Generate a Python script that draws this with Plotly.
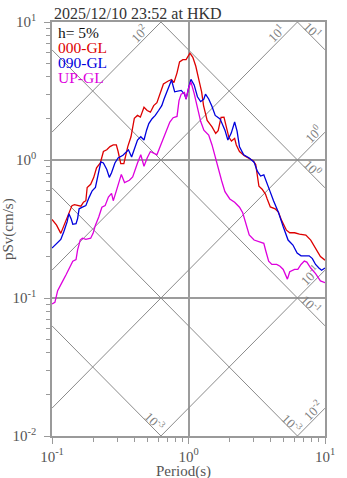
import math
import plotly.graph_objects as go

# ---- record information -------------------------------------------------
TITLE = "2025/12/10 23:52 at HKD"
DAMPING = "h= 5%"
COMPONENTS = ["000-GL", "090-GL", "UP-GL"]
COLORS = ["#dd0000", "#0000dd", "#dd00dd"]

# ---- pseudo-velocity response spectra (period s, pSv cm/s) ---------------
period_000 = [0.100, 0.108, 0.116, 0.122, 0.129, 0.134, 0.140, 0.146, 0.163, 0.170,
              0.177, 0.181, 0.192, 0.202, 0.212, 0.226, 0.238, 0.252, 0.266, 0.281,
              0.296, 0.305, 0.319, 0.336, 0.359, 0.379, 0.390, 0.401, 0.423, 0.444,
              0.472, 0.498, 0.526, 0.556, 0.587, 0.620, 0.655, 0.711, 0.751, 0.782,
              0.824, 0.860, 0.909, 0.960, 1.003, 1.025, 1.076, 1.131, 1.188, 1.248,
              1.289, 1.370, 1.487, 1.582, 1.649, 1.732, 1.819, 1.901, 1.974, 2.064,
              2.178, 2.240, 2.364, 2.566, 2.785, 2.974, 3.108, 3.176, 3.281, 3.463,
              3.662, 3.772, 3.975, 4.314, 4.554, 4.807, 5.217, 5.516, 5.987, 6.500,
              7.241, 7.859, 8.531, 9.259, 10.0]
psv_000 = [0.371, 0.337, 0.294, 0.331, 0.376, 0.408, 0.467, 0.475, 0.463, 0.494,
           0.507, 0.632, 0.667, 0.745, 0.877, 0.952, 1.152, 1.185, 1.251, 1.286,
           1.286, 1.152, 0.942, 0.942, 1.251, 1.474, 1.700, 2.003, 2.104, 2.046,
           2.411, 2.284, 2.221, 2.479, 2.604, 3.018, 3.557, 3.736, 3.830, 3.634,
           4.281, 5.144, 5.334, 5.334, 5.848, 5.944, 5.540, 4.778, 3.862, 3.120,
           2.479, 1.938, 1.736, 1.558, 1.632, 2.036, 2.046, 1.700, 1.466, 1.373,
           1.435, 1.286, 1.152, 1.074, 1.022, 0.989, 0.926, 0.786, 0.645, 0.615,
           0.566, 0.522, 0.457, 0.443, 0.419, 0.365, 0.310, 0.297, 0.297, 0.290,
           0.286, 0.263, 0.230, 0.200, 0.188]

period_090 = [0.100, 0.108, 0.116, 0.122, 0.129, 0.133, 0.138, 0.142, 0.150, 0.154,
              0.158, 0.167, 0.177, 0.187, 0.197, 0.208, 0.220, 0.228, 0.238, 0.252,
              0.263, 0.273, 0.289, 0.305, 0.331, 0.349, 0.363, 0.383, 0.401, 0.423,
              0.447, 0.472, 0.493, 0.512, 0.541, 0.571, 0.604, 0.637, 0.662, 0.692,
              0.723, 0.751, 0.792, 0.838, 0.884, 0.934, 0.960, 1.003, 1.042, 1.100,
              1.163, 1.227, 1.296, 1.332, 1.406, 1.487, 1.569, 1.703, 1.798, 1.849,
              1.942, 2.057, 2.178, 2.269, 2.364, 2.537, 2.785, 3.023, 3.191, 3.374,
              3.562, 3.760, 3.975, 4.196, 4.554, 4.943, 5.364, 5.822, 6.249, 6.673,
              7.656, 8.082, 8.531, 9.020, 9.443, 10.0]
psv_090 = [0.230, 0.246, 0.266, 0.302, 0.356, 0.408, 0.376, 0.342, 0.346, 0.376,
           0.443, 0.455, 0.467, 0.536, 0.598, 0.632, 0.808, 0.968, 0.952, 0.853,
           0.748, 0.808, 0.952, 1.034, 1.082, 1.147, 1.185, 1.051, 1.185, 1.396,
           1.474, 1.396, 1.645, 1.836, 1.993, 2.104, 2.284, 2.479, 2.767, 3.084,
           3.442, 3.798, 3.120, 3.171, 3.197, 3.003, 2.767, 3.347, 3.843, 3.499,
           2.873, 2.648, 2.767, 3.003, 2.767, 2.438, 2.104, 1.987, 1.786, 1.645,
           1.396, 1.566, 1.885, 1.618, 1.245, 1.091, 1.034, 0.965, 0.830, 0.765,
           0.780, 0.686, 0.585, 0.507, 0.419, 0.328, 0.263, 0.242, 0.212, 0.202,
           0.202, 0.193, 0.175, 0.165, 0.159, 0.165]

period_up = [0.100, 0.105, 0.110, 0.114, 0.120, 0.127, 0.134, 0.142, 0.150, 0.154,
             0.161, 0.167, 0.177, 0.192, 0.200, 0.208, 0.220, 0.232, 0.245, 0.259,
             0.273, 0.281, 0.296, 0.313, 0.322, 0.340, 0.369, 0.390, 0.411, 0.423,
             0.447, 0.472, 0.498, 0.526, 0.556, 0.587, 0.620, 0.655, 0.692, 0.730,
             0.772, 0.824, 0.852, 0.884, 0.934, 0.960, 1.003, 1.042, 1.100, 1.163,
             1.227, 1.296, 1.406, 1.487, 1.569, 1.657, 1.751, 1.849, 2.007, 2.178,
             2.364, 2.495, 2.639, 2.785, 3.023, 3.281, 3.562, 3.680, 3.866, 4.081,
             4.429, 4.683, 4.943, 5.304, 5.516, 5.987, 6.321, 6.673, 7.054, 7.361,
             7.859, 8.531, 9.259, 10.0]
psv_up = [0.0906, 0.0931, 0.113, 0.122, 0.133, 0.148, 0.165, 0.185, 0.190, 0.223,
          0.263, 0.271, 0.266, 0.271, 0.294, 0.337, 0.386, 0.455, 0.467, 0.539,
          0.573, 0.507, 0.598, 0.724, 0.786, 0.686, 0.713, 0.755, 0.901, 0.952,
          1.091, 0.901, 1.034, 1.152, 1.122, 1.091, 1.251, 1.435, 1.691, 1.885,
          2.026, 2.070, 2.691, 3.003, 3.084, 2.767, 3.347, 3.676, 3.043, 2.379,
          1.906, 1.645, 1.515, 1.286, 1.056, 0.839, 0.704, 0.590, 0.522, 0.494,
          0.455, 0.415, 0.346, 0.286, 0.263, 0.256, 0.249, 0.220, 0.185, 0.175,
          0.175, 0.170, 0.161, 0.137, 0.155, 0.161, 0.161, 0.175, 0.185, 0.182,
          0.165, 0.150, 0.133, 0.129]

# ---- tripartite grid levels ---------------------------------------------
acc_levels = [0.01, 0.1, 1.0, 10.0, 100.0]      # pSa, cm/s^2
disp_levels = [0.001, 0.01, 0.1, 1.0, 10.0]     # Sd, cm
x_tick_vals = [0.1, 1.0, 10.0]
x_tick_text = ["10<sup>-1</sup>", "10<sup>0</sup>", "10<sup>1</sup>"]
y_tick_vals = [0.01, 0.1, 1.0, 10.0]
y_tick_text = ["10<sup>-2</sup>", "10<sup>-1</sup>", "10<sup>0</sup>", "10<sup>1</sup>"]

# grid-line captions: (kind, level, text)
grid_captions = [
    ("acc", 100.0, "10<sup>2</sup>"),
    ("acc", 10.0, "10<sup>1</sup>"),
    ("acc", 1.0, "10<sup>0</sup>"),
    ("acc", 0.1, "10<sup>-1</sup>"),
    ("acc", 0.01, "10<sup>-2</sup>"),
    ("disp", 10.0, "10<sup>1</sup>"),
    ("disp", 1.0, "10<sup>0</sup>"),
    ("disp", 0.1, "10<sup>-1</sup>"),
    ("disp", 0.01, "10<sup>-3</sup>"),
    ("disp", 0.001, "10<sup>-3</sup>"),
]
# where each caption sits along its line (log10 of period)
caption_logT = [-0.320, 0.680, 0.950, 0.928, 0.950, 0.883, 0.884, 0.869, 0.730, -0.278]

FONT = "Liberation Serif, Times New Roman, serif"
GRID = "#8a8a8a"
FRAME = "#9a9a9a"
TWO_PI = 2.0 * math.pi


def sv_on_line(kind, level, t):
    return level * t / TWO_PI if kind == "acc" else TWO_PI * level / t


fig = go.Figure()

# diagonal lines of constant acceleration and displacement
t_ends = [0.1, 10.0]
for sa in acc_levels:
    fig.add_trace(go.Scatter(x=t_ends, y=[sv_on_line("acc", sa, t) for t in t_ends],
                             mode="lines", line=dict(color=GRID, width=1),
                             hoverinfo="skip", showlegend=False))
for sd in disp_levels:
    fig.add_trace(go.Scatter(x=t_ends, y=[sv_on_line("disp", sd, t) for t in t_ends],
                             mode="lines", line=dict(color=GRID, width=1),
                             hoverinfo="skip", showlegend=False))

# spectra
for name, per, val, col in zip(COMPONENTS, [period_000, period_090, period_up],
                               [psv_000, psv_090, psv_up], COLORS):
    fig.add_trace(go.Scatter(x=per, y=val, mode="lines", name=name,
                             line=dict(color=col, width=1.3), showlegend=False))

annotations = []
for (kind, level, text), lt in zip(grid_captions, caption_logT):
    t = 10 ** lt
    sv = sv_on_line(kind, level, t)
    if kind == "acc":
        ang, dx, dy = -45, -5.5, 5.5
    else:
        ang, dx, dy = 45, 4, 4
    annotations.append(dict(x=lt, y=math.log10(sv), xref="x", yref="y", text=text,
                            showarrow=False, textangle=ang, xanchor="center",
                            yanchor="middle", xshift=dx, yshift=dy,
                            font=dict(family=FONT, size=13, color="#808080")))

# title
annotations.append(dict(x=0, y=1, xref="paper", yref="paper", text=TITLE,
                        showarrow=False, xanchor="left", yanchor="bottom",
                        xshift=0, yshift=-2,
                        font=dict(family=FONT, size=16, color="#333333")))

# legend block
legend_rows = [(DAMPING, "#111111")] + list(zip(COMPONENTS, COLORS))
for i, (txt, col) in enumerate(legend_rows):
    annotations.append(dict(x=0, y=1, xref="paper", yref="paper", text=txt,
                            showarrow=False, xanchor="left", yanchor="middle",
                            xshift=4, yshift=-10 - 15 * i,
                            font=dict(family=FONT, size=15.5, color=col)))

# axis titles
annotations.append(dict(x=0.5, y=0, xref="paper", yref="paper", text="Period(s)",
                        showarrow=False, xanchor="center", yanchor="middle",
                        xshift=-5, yshift=-35,
                        font=dict(family=FONT, size=15, color="#555555")))
annotations.append(dict(x=0, y=0.5, xref="paper", yref="paper", text="pSv(cm/s)",
                        showarrow=False, xanchor="center", yanchor="middle",
                        xshift=-44, yshift=0, textangle=-90,
                        font=dict(family=FONT, size=15, color="#555555")))

x_minor = [m * d for d in (0.1, 1.0) for m in range(2, 10)]
y_minor = [m * d for d in (0.01, 0.1, 1.0) for m in range(2, 10)]

axis_common = dict(type="log", showline=True, mirror=True, linecolor=FRAME, linewidth=1.5,
                   showgrid=True, gridcolor="#9c9c9c", gridwidth=1.5, zeroline=False,
                   ticks="outside", ticklen=6, tickcolor=FRAME, tickwidth=1,
                   tickfont=dict(family=FONT, size=15, color="#555555"))

fig.update_layout(
    width=347, height=478,
    margin=dict(l=52, r=14, t=15, b=42),
    paper_bgcolor="white", plot_bgcolor="white",
    xaxis=dict(range=[-1, 1], tickmode="array", tickvals=x_tick_vals, ticktext=x_tick_text,
               minor=dict(tickmode="array", tickvals=x_minor, ticks="outside", ticklen=4,
                          tickcolor=FRAME, showgrid=False),
               **axis_common),
    yaxis=dict(range=[-2, 1], tickmode="array", tickvals=y_tick_vals, ticktext=y_tick_text,
               ticklabelstandoff=5,
               minor=dict(tickmode="array", tickvals=y_minor, ticks="outside", ticklen=4,
                          tickcolor=FRAME, showgrid=False),
               **axis_common),
    annotations=annotations,
)

fig.write_html("out.html")
